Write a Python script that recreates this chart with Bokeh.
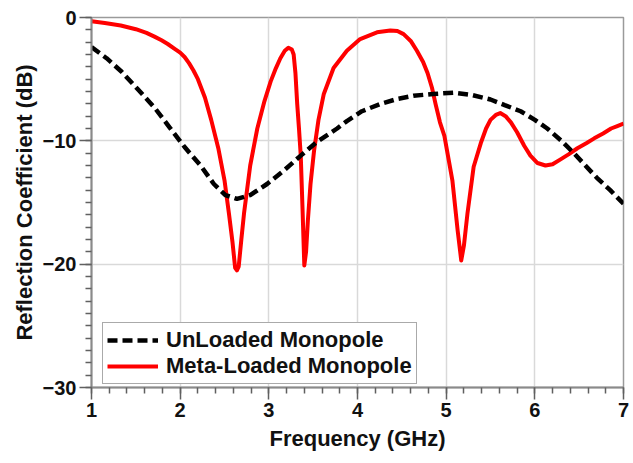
from bokeh.plotting import figure
from bokeh.models import Range1d, FixedTicker, Legend, LegendItem
from bokeh.embed import file_html
from bokeh.resources import INLINE

# ---- data ----
unloaded_freq = [1.00, 1.17, 1.34, 1.52, 1.71, 1.88, 2.05, 2.23, 2.38, 2.51, 2.64,
                 2.79, 2.98, 3.17, 3.36, 3.54, 3.77, 3.88, 4.05, 4.26, 4.45, 4.63,
                 4.85, 5.08, 5.30, 5.50, 5.66, 5.84, 6.00, 6.14, 6.30, 6.44, 6.57,
                 6.70, 6.85, 7.00]
unloaded_s11 = [-2.4, -3.3, -4.4, -5.8, -7.3, -8.9, -10.5, -12.0, -13.5, -14.4, -14.7,
                -14.4, -13.5, -12.4, -11.2, -10.1, -9.0, -8.4, -7.6, -7.0, -6.6, -6.35,
                -6.2, -6.1, -6.3, -6.65, -7.1, -7.6, -8.3, -9.0, -10.0, -11.0, -12.0,
                -13.0, -14.0, -15.1]

meta_freq = [1.00, 1.15, 1.33, 1.50, 1.62, 1.71, 1.79, 1.86, 1.93, 2.00, 2.05, 2.10,
             2.15, 2.20, 2.28, 2.35, 2.43,
             2.50, 2.55, 2.59, 2.62, 2.64, 2.66, 2.69, 2.72, 2.79, 2.87, 2.95, 3.02,
             3.08, 3.13, 3.18, 3.22, 3.26, 3.28, 3.30, 3.32, 3.34, 3.36, 3.38, 3.40,
             3.42, 3.44, 3.47, 3.51, 3.56, 3.62, 3.73, 3.88, 4.03, 4.22, 4.37, 4.45,
             4.52, 4.60, 4.67, 4.74, 4.79, 4.84, 4.88, 4.93, 4.98, 5.07, 5.13, 5.17,
             5.20, 5.24, 5.31, 5.39, 5.45, 5.50, 5.56, 5.61, 5.67, 5.73, 5.80, 5.88,
             5.95, 6.03, 6.12, 6.20, 6.29, 6.38, 6.48, 6.58, 6.67, 6.77, 6.86, 6.93,
             7.00]
meta_s11 = [-0.30, -0.45, -0.65, -0.95, -1.25, -1.55, -1.85, -2.15, -2.5, -2.85, -3.2, -3.7,
            -4.3, -5.0, -6.5, -8.3, -10.6,
            -13.2, -15.9, -18.2, -20.3, -20.5, -20.2, -18.0, -15.9, -12.0, -9.0, -6.8, -5.2,
            -4.1, -3.3, -2.7, -2.45, -2.6, -3.0, -4.5, -7.0, -9.0, -11.2, -15.5, -20.1,
            -19.0, -16.5, -13.5, -10.8, -8.3, -6.2, -4.1, -2.7, -1.75, -1.2, -1.05, -1.1,
            -1.35, -1.9, -2.7, -3.6, -4.5, -5.7, -7.0, -8.5, -9.6, -13.2, -17.3, -19.7,
            -18.5, -15.9, -12.1, -10.2, -9.0, -8.3, -7.9, -7.75, -8.0, -8.5, -9.3, -10.4,
            -11.2, -11.8, -12.0, -11.9, -11.5, -11.1, -10.6, -10.2, -9.8, -9.4, -9.0, -8.8,
            -8.6]

x_ticks = [1, 2, 3, 4, 5, 6, 7]
y_ticks = [-30, -20, -10, 0]
series_names = ["UnLoaded Monopole", "Meta-Loaded Monopole"]
x_label = "Frequency (GHz)"
y_label = "Reflection Coefficient (dB)"

FONT = "Liberation Sans"

p = figure(width=633, height=463, x_range=Range1d(1, 7), y_range=Range1d(-30, 0),
           output_backend="svg", toolbar_location=None,
           min_border_left=91, min_border_right=10, min_border_top=17,
           min_border_bottom=76, background_fill_color="white",
           border_fill_color="white")

p.outline_line_color = "#9a9a9a"
p.outline_line_width = 1.5

x_minor = [round(1 + i * 0.2, 2) for i in range(31)]
y_minor = [-30 + i for i in range(31)]
p.xaxis.ticker = FixedTicker(ticks=x_ticks, minor_ticks=x_minor)
p.yaxis.ticker = FixedTicker(ticks=y_ticks, minor_ticks=y_minor)

for ax in (p.xaxis[0], p.yaxis[0]):
    ax.axis_line_color = "#8a8a8a"
    ax.axis_line_width = 2
    ax.major_tick_line_color = "#606060"
    ax.major_tick_line_width = 1.5
    ax.minor_tick_line_color = "#606060"
    ax.minor_tick_line_width = 1.5
    ax.major_tick_in = 0
    ax.minor_tick_in = 0
    ax.major_tick_out = 12
    ax.minor_tick_out = 6
    ax.major_label_text_font = FONT
    ax.major_label_text_font_style = "bold"
    ax.major_label_text_font_size = "20px"
    ax.major_label_text_color = "#111111"
    ax.axis_label_text_font = FONT
    ax.axis_label_text_font_style = "bold"
    ax.axis_label_text_font_size = "22px"
    ax.axis_label_text_color = "#111111"

p.xaxis.axis_label = x_label
p.yaxis.axis_label = y_label
p.xaxis.major_label_standoff = 3
p.yaxis.major_label_standoff = 3
p.xaxis.axis_label_standoff = 6
p.yaxis.axis_label_standoff = 3

p.xgrid.grid_line_color = "#d9d9d9"
p.ygrid.grid_line_color = "#d9d9d9"
p.xgrid.grid_line_width = 1.5
p.ygrid.grid_line_width = 1.5

r_meta = p.line(meta_freq, meta_s11, line_color="#ff0000", line_width=4,
                line_join="round")
r_unl = p.line(unloaded_freq, unloaded_s11, line_color="#000000", line_width=4.5,
               line_dash="10 5")

legend = Legend(items=[LegendItem(label=series_names[0], renderers=[r_unl]),
                       LegendItem(label=series_names[1], renderers=[r_meta])],
                location=(11, 3), margin=0, padding=4, spacing=0,
                glyph_width=51, glyph_height=18, label_height=18,
                label_standoff=8,
                label_text_font=FONT, label_text_font_style="bold",
                label_text_font_size="22px", label_text_color="#111111",
                label_text_line_height=0.8,
                border_line_color="#555555", border_line_width=1.5,
                background_fill_color="white", background_fill_alpha=1)
p.add_layout(legend, "center")

open("out.html", "w").write(file_html(p, INLINE))
